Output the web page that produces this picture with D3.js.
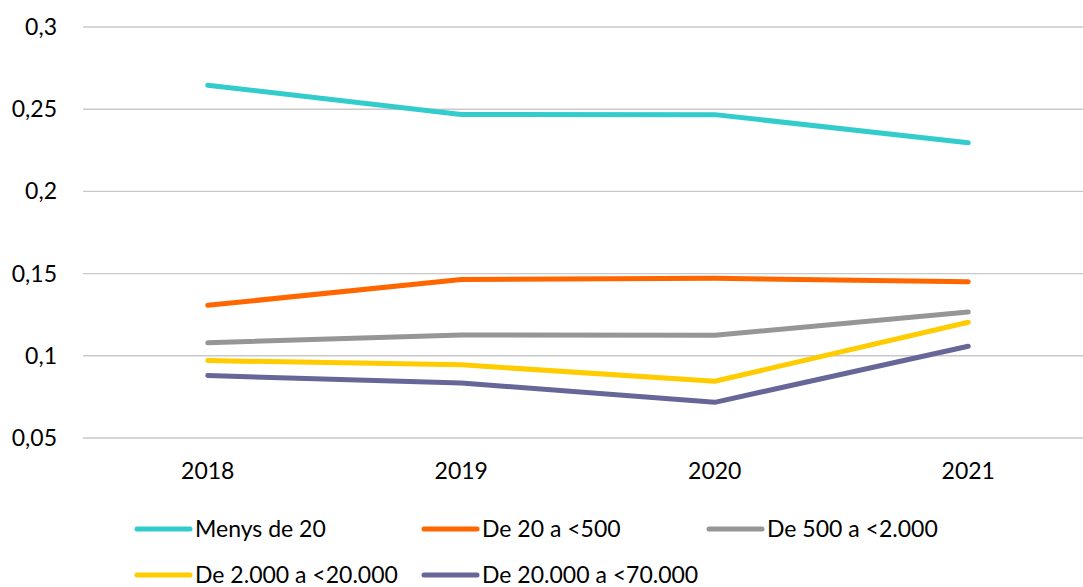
<!DOCTYPE html>
<html>
<head>
<meta charset="utf-8">
<script src="https://cdn.jsdelivr.net/npm/d3@7"></script>
<style>
  body { margin: 0; background: #fff; }
  svg text { font-family: Lato, "Open Sans", sans-serif; fill: #000; }
</style>
</head>
<body>
<svg id="chart" width="1083" height="587"></svg>
<script>
const years = ["2018", "2019", "2020", "2021"];
const seriesNames = ["Menys de 20", "De 20 a <500", "De 500 a <2.000", "De 2.000 a <20.000", "De 20.000 a <70.000"];
const seriesColors = ["#33cccc", "#ff6600", "#969696", "#ffcc00", "#666699"];
const menys20 = [0.2646, 0.2468, 0.2467, 0.2296];
const de20a500 = [0.1307, 0.1464, 0.1471, 0.1450];
const de500a2000 = [0.1079, 0.1127, 0.1125, 0.1267];
const de2000a20000 = [0.0971, 0.0945, 0.0845, 0.1204];
const de20000a70000 = [0.0880, 0.0835, 0.0717, 0.1058];
const yTicks = [0.05, 0.1, 0.15, 0.2, 0.25, 0.3];

const seriesValues = [menys20, de20a500, de500a2000, de2000a20000, de20000a70000];

const svg = d3.select("#chart");

const x = d3.scaleBand().domain(years).range([81, 1095]).padding(0);
const y = d3.scaleLinear().domain([0.05, 0.3]).range([438, 27]);

const fmt = d => String(d).replace(".", ",");

// gridlines
svg.append("g")
  .selectAll("line")
  .data(yTicks)
  .join("line")
  .attr("x1", 83)
  .attr("x2", 1083)
  .attr("y1", d => y(d))
  .attr("y2", d => y(d))
  .attr("stroke", "#c9c9c9")
  .attr("stroke-width", 1.4);

// y labels
svg.append("g")
  .selectAll("text")
  .data(yTicks)
  .join("text")
  .attr("x", 57)
  .attr("y", d => y(d))
  .attr("dy", "0.35em")
  .attr("text-anchor", "end")
  .attr("font-size", 23)
  .text(fmt);

// x labels
svg.append("g")
  .selectAll("text")
  .data(years)
  .join("text")
  .attr("x", d => x(d) + x.bandwidth() / 2)
  .attr("y", 471)
  .attr("dy", "0.35em")
  .attr("text-anchor", "middle")
  .attr("font-size", 23)
  .text(d => d);

// lines
const line = d3.line()
  .x((d, i) => x(years[i]) + x.bandwidth() / 2)
  .y(d => y(d));

svg.append("g")
  .selectAll("path")
  .data(seriesValues)
  .join("path")
  .attr("d", d => line(d))
  .attr("fill", "none")
  .attr("stroke", (d, i) => seriesColors[i])
  .attr("stroke-width", 5)
  .attr("stroke-linecap", "round")
  .attr("stroke-linejoin", "round");

// legend
const legendPos = [[135, 529], [422, 529], [707, 529], [135, 575], [422, 575]];
const legend = svg.append("g")
  .selectAll("g")
  .data(seriesNames)
  .join("g")
  .attr("transform", (d, i) => "translate(" + legendPos[i][0] + "," + legendPos[i][1] + ")");

legend.append("line")
  .attr("x1", 2)
  .attr("x2", 55)
  .attr("stroke", (d, i) => seriesColors[i])
  .attr("stroke-width", 5)
  .attr("stroke-linecap", "round");

legend.append("text")
  .attr("x", 60)
  .attr("dy", "0.35em")
  .attr("font-size", 23)
  .text(d => d);
</script>
</body>
</html>
